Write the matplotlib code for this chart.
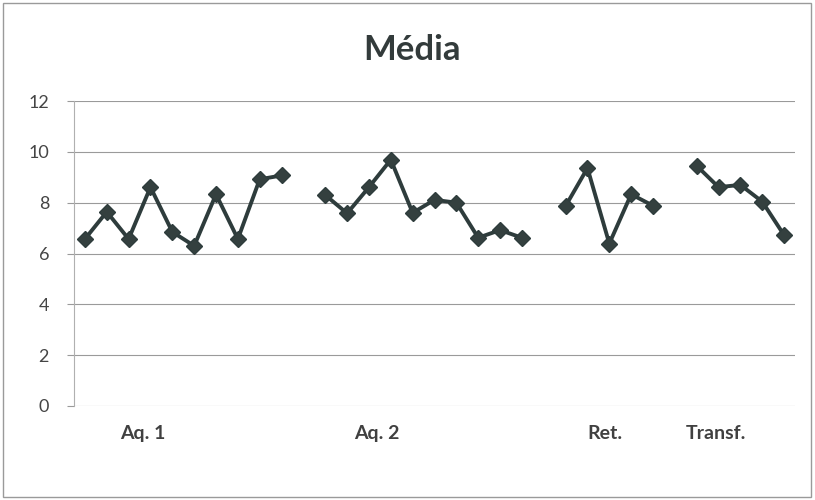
import matplotlib.pyplot as plt
import numpy as np
from matplotlib.patches import Rectangle

plt.rcParams['font.family'] = ['Lato', 'DejaVu Sans']

# médias por grupo
aq1 = [6.57, 7.64, 6.57, 8.61, 6.85, 6.30, 8.33, 6.57, 8.92, 9.07]
aq2 = [8.30, 7.58, 8.61, 9.69, 7.60, 8.11, 8.00, 6.62, 6.92, 6.62]
ret = [7.87, 9.36, 6.39, 8.33, 7.88]
transf = [9.45, 8.61, 8.70, 8.04, 6.72]

group_names = ['Aq. 1', 'Aq. 2', 'Ret.', 'Transf.']
label_pos = [2.65, 13.35, 23.8, 28.9]
yticks = [0, 2, 4, 6, 8, 10, 12]

# uma categoria vazia entre grupos
vals = aq1 + [np.nan] + aq2 + [np.nan] + ret + [np.nan] + transf
x = np.arange(len(vals))

fig = plt.figure(figsize=(8.15, 5.0), dpi=100)
ax = fig.add_axes([0.0908, 0.188, 0.8847, 0.61])

ax.plot(x, vals, color='#2e3c3c', lw=2.8, marker='D', ms=8,
        markerfacecolor='#34403f', markeredgecolor='#2e3c3c', zorder=3)

ax.set_xlim(-0.5, len(vals) - 0.5)
ax.set_ylim(0, 12)
ax.set_yticks(yticks)
ax.yaxis.grid(True, color='#9a9a9a', lw=0.8)
ax.set_axisbelow(True)

ax.set_xticks(label_pos)
ax.set_xticklabels(group_names, fontsize=14, fontweight='bold', color='#404040')
ax.tick_params(axis='x', length=0, pad=14)
ax.tick_params(axis='y', length=5, color='#9a9a9a', labelsize=13,
               labelcolor='#454545', pad=13)

for s in ['top', 'right', 'bottom']:
    ax.spines[s].set_visible(False)
ax.spines['left'].set_color('#b0b0b0')
ax.spines['left'].set_linewidth(0.8)

fig.text(412 / 815, 0.90, 'Média', fontsize=25, fontweight='bold',
         color='#333b3b', ha='center', va='center')

# moldura do gráfico
fig.patches.append(Rectangle((0.004, 0.006), 0.991, 0.988, transform=fig.transFigure,
                             fill=False, edgecolor='#9a9a9a', lw=1.0))

fig.savefig('out.png', dpi=100)
